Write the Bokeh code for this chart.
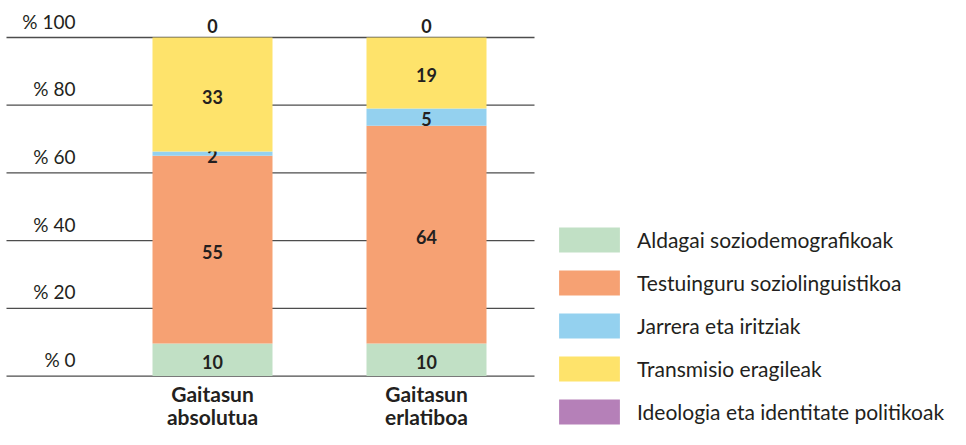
from bokeh.plotting import figure
from bokeh.models import Range1d, Legend, LegendItem, ColumnDataSource
from bokeh.core.properties import value
from bokeh.embed import file_html
from bokeh.resources import INLINE

# ---------------- data ----------------
cat_line1 = ["Gaitasun", "Gaitasun"]
cat_line2 = ["absolutua", "erlatiboa"]
series = ["Aldagai soziodemografikoak", "Testuinguru soziolinguistikoa",
          "Jarrera eta iritziak", "Transmisio eragileak",
          "Ideologia eta identitate politikoak"]
colors = ["#c1e0c5", "#f6a173", "#94d1ef", "#fee36b", "#b580b8"]

# segment heights (%)
aldagai = [9.6, 9.6]
testuinguru = [55.5, 64.3]
jarrera = [1.2, 5.1]
transmisio = [33.7, 21.0]
ideologia = [0.0, 0.0]

# printed labels
lbl_aldagai = ["10", "10"]
lbl_testuinguru = ["55", "64"]
lbl_jarrera = ["2", "5"]
lbl_transmisio = ["33", "19"]
lbl_ideologia = ["0", "0"]

y_ticks = [0, 20, 40, 60, 80, 100]
y_tick_labels = ["% 0", "% 20", "% 40", "% 60", "% 80", "% 100"]

# ---------------- layout ----------------
W, H = 950, 429
PPU = 3.386          # px per percent
Y0 = 375.6           # frame y of 0 %
XC0 = 212.0          # frame x of first category
XU = 214.0           # px per category step
GRID_START = 6.0
GRID_END = 534.0     # frame x where grid lines end
TXT = "#231f20"
FONT = "Lato"

x_start = -XC0 / XU
x_end = (W - XC0) / XU
y_start = -(H - Y0) / PPU
y_end = Y0 / PPU

p = figure(width=W, height=H, output_backend="svg", toolbar_location=None,
           x_range=Range1d(x_start, x_end), y_range=Range1d(y_start, y_end),
           min_border=0, min_border_left=0, min_border_right=0,
           min_border_top=0, min_border_bottom=0)
p.axis.visible = False
p.grid.visible = False
p.outline_line_color = None
p.background_fill_color = "white"
p.border_fill_color = "white"

xs = list(range(len(cat_line1)))

# grid lines
p.segment(x0=[(GRID_START - XC0) / XU] * len(y_ticks),
          x1=[(GRID_END - XC0) / XU] * len(y_ticks),
          y0=y_ticks, y1=y_ticks, line_color="#4d4d4d", line_width=1.3)

# tick labels (above grid lines, right aligned)
p.text(x=[x_start] * len(y_ticks), y=y_ticks, text=y_tick_labels,
       x_offset=75, y_offset=-16.5, text_align="right", text_baseline="middle",
       text_font=value(FONT), text_font_size="19px", text_color=TXT)

# stacked bars
vals = [aldagai, testuinguru, jarrera, transmisio, ideologia]
lbls = [lbl_aldagai, lbl_testuinguru, lbl_jarrera, lbl_transmisio, lbl_ideologia]
bw = 120.0 / XU
bottoms = [0.0] * len(xs)
renderers = []
for name, col, v, lb in zip(series, colors, vals, lbls):
    tops = [b + h for b, h in zip(bottoms, v)]
    src = ColumnDataSource(dict(x=xs, bottom=bottoms, top=tops,
                                mid=[(b + t) / 2 for b, t in zip(bottoms, tops)],
                                lab=lb))
    r = p.vbar(x="x", bottom="bottom", top="top", width=bw, source=src,
               fill_color=col, line_color=None)
    renderers.append((name, r))
    if max(v) > 0:
        p.text(x="x", y="mid", text="lab", source=src, y_offset=2,
               text_align="center", text_baseline="middle",
               text_font=value(FONT), text_font_style="bold",
               text_font_size="18px", text_color=TXT)
    else:
        p.text(x="x", y="top", text="lab", source=src, y_offset=-12,
               text_align="center", text_baseline="middle",
               text_font=value(FONT), text_font_style="bold",
               text_font_size="18px", text_color=TXT)
    bottoms = tops

# category labels
p.text(x=xs, y=[y_start] * len(xs), text=cat_line1, y_offset=-36,
       text_align="center", text_baseline="middle", text_font=value(FONT),
       text_font_style="bold", text_font_size="21px", text_color=TXT)
p.text(x=xs, y=[y_start] * len(xs), text=cat_line2, y_offset=-13,
       text_align="center", text_baseline="middle", text_font=value(FONT),
       text_font_style="bold", text_font_size="21px", text_color=TXT)

legend = Legend(items=[LegendItem(label=n, renderers=[r]) for n, r in renderers],
                location=(551, 2), glyph_width=76, glyph_height=31,
                label_standoff=10, spacing=12, padding=0, margin=0,
                label_height=31, border_line_color=None,
                background_fill_alpha=0, label_text_font=FONT,
                label_text_font_size="21px", label_text_color=TXT,
                label_text_baseline="middle")
p.add_layout(legend, "center")

open("out.html", "w").write(file_html(p, INLINE))
